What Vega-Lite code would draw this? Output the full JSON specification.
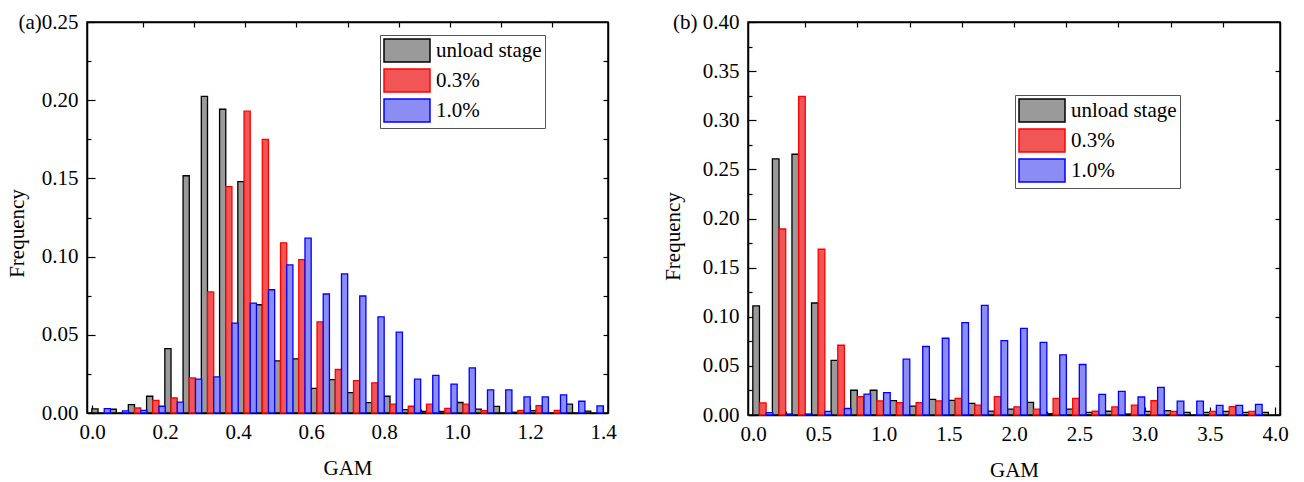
{
  "$schema": "https://vega.github.io/schema/vega-lite/v6.json",
  "background": "white",
  "autosize": {"type": "pad"},
  "padding": {"left": 5, "top": 10, "right": 0, "bottom": 0},
  "spacing": 44,
  "config": {
    "view": {"stroke": "black", "strokeWidth": 1.5},
    "axis": {
      "grid": false,
      "labelFont": "Liberation Serif",
      "labelFontSize": 21,
      "labelColor": "black",
      "titleFont": "Liberation Serif",
      "titleFontSize": 21,
      "titleFontWeight": "normal",
      "titleColor": "black",
      "domainColor": "black",
      "domainWidth": 1.5,
      "tickColor": "black",
      "tickWidth": 1.2
    },
    "legend": {
      "orient": "none",
      "fillColor": "white",
      "strokeColor": "#555555",
      "padding": 3,
      "labelFont": "Liberation Serif",
      "labelFontSize": 21,
      "labelColor": "black",
      "symbolType": "M-1,-1H3V1H-1Z",
      "symbolSize": 529,
      "symbolStrokeWidth": 1.5,
      "symbolOpacity": 1,
      "labelOffset": 28,
      "rowPadding": 1
    }
  },
  "datasets": {
    "a": [
      {"gam": 0.025, "series": "unload stage", "freq": 0.0026}, {"gam": 0.025, "series": "1.0%", "freq": 0.0028},
      {"gam": 0.075, "series": "unload stage", "freq": 0.0024}, {"gam": 0.075, "series": "1.0%", "freq": 0.0013},
      {"gam": 0.125, "series": "unload stage", "freq": 0.0053}, {"gam": 0.125, "series": "0.3%", "freq": 0.0032}, {"gam": 0.125, "series": "1.0%", "freq": 0.0017},
      {"gam": 0.175, "series": "unload stage", "freq": 0.0107}, {"gam": 0.175, "series": "0.3%", "freq": 0.0081}, {"gam": 0.175, "series": "1.0%", "freq": 0.0043},
      {"gam": 0.225, "series": "unload stage", "freq": 0.0412}, {"gam": 0.225, "series": "0.3%", "freq": 0.0096}, {"gam": 0.225, "series": "1.0%", "freq": 0.007},
      {"gam": 0.275, "series": "unload stage", "freq": 0.1517}, {"gam": 0.275, "series": "0.3%", "freq": 0.0224}, {"gam": 0.275, "series": "1.0%", "freq": 0.0216},
      {"gam": 0.325, "series": "unload stage", "freq": 0.2024}, {"gam": 0.325, "series": "0.3%", "freq": 0.0774}, {"gam": 0.325, "series": "1.0%", "freq": 0.0231},
      {"gam": 0.375, "series": "unload stage", "freq": 0.1942}, {"gam": 0.375, "series": "0.3%", "freq": 0.1447}, {"gam": 0.375, "series": "1.0%", "freq": 0.0575},
      {"gam": 0.425, "series": "unload stage", "freq": 0.1479}, {"gam": 0.425, "series": "0.3%", "freq": 0.193}, {"gam": 0.425, "series": "1.0%", "freq": 0.0703},
      {"gam": 0.475, "series": "unload stage", "freq": 0.0692}, {"gam": 0.475, "series": "0.3%", "freq": 0.175}, {"gam": 0.475, "series": "1.0%", "freq": 0.0788},
      {"gam": 0.525, "series": "unload stage", "freq": 0.0333}, {"gam": 0.525, "series": "0.3%", "freq": 0.1088}, {"gam": 0.525, "series": "1.0%", "freq": 0.0947},
      {"gam": 0.575, "series": "unload stage", "freq": 0.0346}, {"gam": 0.575, "series": "0.3%", "freq": 0.0981}, {"gam": 0.575, "series": "1.0%", "freq": 0.1118},
      {"gam": 0.625, "series": "unload stage", "freq": 0.0158}, {"gam": 0.625, "series": "0.3%", "freq": 0.0583}, {"gam": 0.625, "series": "1.0%", "freq": 0.0761},
      {"gam": 0.675, "series": "unload stage", "freq": 0.0214}, {"gam": 0.675, "series": "0.3%", "freq": 0.0278}, {"gam": 0.675, "series": "1.0%", "freq": 0.0889},
      {"gam": 0.725, "series": "unload stage", "freq": 0.013}, {"gam": 0.725, "series": "0.3%", "freq": 0.0207}, {"gam": 0.725, "series": "1.0%", "freq": 0.0748},
      {"gam": 0.775, "series": "unload stage", "freq": 0.0066}, {"gam": 0.775, "series": "0.3%", "freq": 0.0193}, {"gam": 0.775, "series": "1.0%", "freq": 0.0615},
      {"gam": 0.825, "series": "unload stage", "freq": 0.0107}, {"gam": 0.825, "series": "0.3%", "freq": 0.0057}, {"gam": 0.825, "series": "1.0%", "freq": 0.0517},
      {"gam": 0.875, "series": "unload stage", "freq": 0.0021}, {"gam": 0.875, "series": "0.3%", "freq": 0.0043}, {"gam": 0.875, "series": "1.0%", "freq": 0.0216},
      {"gam": 0.925, "series": "unload stage", "freq": 0.001}, {"gam": 0.925, "series": "0.3%", "freq": 0.0057}, {"gam": 0.925, "series": "1.0%", "freq": 0.0241},
      {"gam": 0.975, "series": "unload stage", "freq": 0.001}, {"gam": 0.975, "series": "0.3%", "freq": 0.0029}, {"gam": 0.975, "series": "1.0%", "freq": 0.0185},
      {"gam": 1.025, "series": "unload stage", "freq": 0.0067}, {"gam": 1.025, "series": "0.3%", "freq": 0.0057}, {"gam": 1.025, "series": "1.0%", "freq": 0.0288},
      {"gam": 1.075, "series": "unload stage", "freq": 0.0025}, {"gam": 1.075, "series": "0.3%", "freq": 0.0015}, {"gam": 1.075, "series": "1.0%", "freq": 0.0148},
      {"gam": 1.125, "series": "unload stage", "freq": 0.0042}, {"gam": 1.125, "series": "1.0%", "freq": 0.0148},
      {"gam": 1.175, "series": "unload stage", "freq": 0.0005}, {"gam": 1.175, "series": "0.3%", "freq": 0.0017}, {"gam": 1.175, "series": "1.0%", "freq": 0.0103},
      {"gam": 1.225, "series": "unload stage", "freq": 0.0015}, {"gam": 1.225, "series": "0.3%", "freq": 0.0047}, {"gam": 1.225, "series": "1.0%", "freq": 0.0103},
      {"gam": 1.275, "series": "0.3%", "freq": 0.0017}, {"gam": 1.275, "series": "1.0%", "freq": 0.0116},
      {"gam": 1.325, "series": "unload stage", "freq": 0.0057}, {"gam": 1.325, "series": "1.0%", "freq": 0.0075},
      {"gam": 1.375, "series": "unload stage", "freq": 0.0012}, {"gam": 1.375, "series": "1.0%", "freq": 0.0046}
    ],
    "b": [
      {"gam": 0.075, "series": "unload stage", "freq": 0.111}, {"gam": 0.075, "series": "0.3%", "freq": 0.0124}, {"gam": 0.075, "series": "1.0%", "freq": 0.0025},
      {"gam": 0.225, "series": "unload stage", "freq": 0.2607}, {"gam": 0.225, "series": "0.3%", "freq": 0.1893}, {"gam": 0.225, "series": "1.0%", "freq": 0.001},
      {"gam": 0.375, "series": "unload stage", "freq": 0.2654}, {"gam": 0.375, "series": "0.3%", "freq": 0.3243}, {"gam": 0.375, "series": "1.0%", "freq": 0.001},
      {"gam": 0.525, "series": "unload stage", "freq": 0.114}, {"gam": 0.525, "series": "0.3%", "freq": 0.1687}, {"gam": 0.525, "series": "1.0%", "freq": 0.0037},
      {"gam": 0.675, "series": "unload stage", "freq": 0.0555}, {"gam": 0.675, "series": "0.3%", "freq": 0.071}, {"gam": 0.675, "series": "1.0%", "freq": 0.0066},
      {"gam": 0.825, "series": "unload stage", "freq": 0.0252}, {"gam": 0.825, "series": "0.3%", "freq": 0.0186}, {"gam": 0.825, "series": "1.0%", "freq": 0.0212},
      {"gam": 0.975, "series": "unload stage", "freq": 0.0252}, {"gam": 0.975, "series": "0.3%", "freq": 0.0143}, {"gam": 0.975, "series": "1.0%", "freq": 0.0227},
      {"gam": 1.125, "series": "unload stage", "freq": 0.0147}, {"gam": 1.125, "series": "0.3%", "freq": 0.0125}, {"gam": 1.125, "series": "1.0%", "freq": 0.0568},
      {"gam": 1.275, "series": "unload stage", "freq": 0.0091}, {"gam": 1.275, "series": "0.3%", "freq": 0.0125}, {"gam": 1.275, "series": "1.0%", "freq": 0.0697},
      {"gam": 1.425, "series": "unload stage", "freq": 0.016}, {"gam": 1.425, "series": "0.3%", "freq": 0.0143}, {"gam": 1.425, "series": "1.0%", "freq": 0.0781},
      {"gam": 1.575, "series": "unload stage", "freq": 0.0149}, {"gam": 1.575, "series": "0.3%", "freq": 0.017}, {"gam": 1.575, "series": "1.0%", "freq": 0.094},
      {"gam": 1.725, "series": "unload stage", "freq": 0.0118}, {"gam": 1.725, "series": "0.3%", "freq": 0.0101}, {"gam": 1.725, "series": "1.0%", "freq": 0.1116},
      {"gam": 1.875, "series": "unload stage", "freq": 0.004}, {"gam": 1.875, "series": "0.3%", "freq": 0.0187}, {"gam": 1.875, "series": "1.0%", "freq": 0.0757},
      {"gam": 2.025, "series": "unload stage", "freq": 0.006}, {"gam": 2.025, "series": "0.3%", "freq": 0.0083}, {"gam": 2.025, "series": "1.0%", "freq": 0.0882},
      {"gam": 2.175, "series": "unload stage", "freq": 0.0128}, {"gam": 2.175, "series": "0.3%", "freq": 0.006}, {"gam": 2.175, "series": "1.0%", "freq": 0.074},
      {"gam": 2.325, "series": "unload stage", "freq": 0.0013}, {"gam": 2.325, "series": "0.3%", "freq": 0.0169}, {"gam": 2.325, "series": "1.0%", "freq": 0.0612},
      {"gam": 2.475, "series": "unload stage", "freq": 0.006}, {"gam": 2.475, "series": "0.3%", "freq": 0.0169}, {"gam": 2.475, "series": "1.0%", "freq": 0.0514},
      {"gam": 2.625, "series": "unload stage", "freq": 0.0027}, {"gam": 2.625, "series": "0.3%", "freq": 0.0038}, {"gam": 2.625, "series": "1.0%", "freq": 0.021},
      {"gam": 2.775, "series": "unload stage", "freq": 0.0038}, {"gam": 2.775, "series": "0.3%", "freq": 0.0083}, {"gam": 2.775, "series": "1.0%", "freq": 0.024},
      {"gam": 2.925, "series": "unload stage", "freq": 0.001}, {"gam": 2.925, "series": "0.3%", "freq": 0.0101}, {"gam": 2.925, "series": "1.0%", "freq": 0.0183},
      {"gam": 3.075, "series": "unload stage", "freq": 0.0037}, {"gam": 3.075, "series": "0.3%", "freq": 0.0145}, {"gam": 3.075, "series": "1.0%", "freq": 0.0281},
      {"gam": 3.225, "series": "unload stage", "freq": 0.0044}, {"gam": 3.225, "series": "0.3%", "freq": 0.0037}, {"gam": 3.225, "series": "1.0%", "freq": 0.0142},
      {"gam": 3.375, "series": "unload stage", "freq": 0.0027}, {"gam": 3.375, "series": "1.0%", "freq": 0.0142},
      {"gam": 3.525, "series": "unload stage", "freq": 0.0027}, {"gam": 3.525, "series": "0.3%", "freq": 0.0037}, {"gam": 3.525, "series": "1.0%", "freq": 0.0098},
      {"gam": 3.675, "series": "unload stage", "freq": 0.0037}, {"gam": 3.675, "series": "0.3%", "freq": 0.0085}, {"gam": 3.675, "series": "1.0%", "freq": 0.0098},
      {"gam": 3.825, "series": "unload stage", "freq": 0.0027}, {"gam": 3.825, "series": "0.3%", "freq": 0.0037}, {"gam": 3.825, "series": "1.0%", "freq": 0.0108},
      {"gam": 3.975, "series": "unload stage", "freq": 0.0027}
    ]
  },
  "resolve": {
    "scale": {"fill": "independent", "stroke": "independent"},
    "legend": {"fill": "independent", "stroke": "independent"}
  },
  "hconcat": [
    {
      "width": 521,
      "height": 391,
      "data": {"name": "a"},
      "encoding": {
        "fill": {"field": "series", "type": "nominal", "scale": {"domain": ["unload stage", "0.3%", "1.0%"], "range": ["#9a9a9a", "#f25555", "#8c8cf5"]}, "legend": {"title": null, "legendX": 293, "legendY": 13}},
        "stroke": {"field": "series", "type": "nominal", "scale": {"domain": ["unload stage", "0.3%", "1.0%"], "range": ["#000000", "#ff0000", "#0000ff"]}, "legend": {"title": null, "legendX": 293, "legendY": 13}}
      },
      "resolve": {"axis": {"x": "independent", "y": "independent"}},
      "layer": [
        {
          "transform": [{"filter": "datum.series === 'unload stage'"}],
          "mark": {"type": "bar", "width": 6.2, "xOffset": -6.2, "strokeWidth": 1.3},
          "encoding": {
            "x": {"field": "gam", "type": "quantitative", "scale": {"domain": [0, 1.4], "nice": false, "zero": false},
                  "axis": {"orient": "bottom", "title": "GAM", "values": [0, 0.2, 0.4, 0.6, 0.8, 1.0, 1.2, 1.4], "format": ".1f", "tickSize": -8, "labelPadding": 16, "titleBaseline": "middle", "titleY": 55}},
            "y": {"field": "freq", "type": "quantitative", "scale": {"domain": [0, 0.25], "nice": false},
                  "axis": {"orient": "left", "title": "Frequency", "values": [0, 0.05, 0.1, 0.15, 0.2, 0.25], "format": ".2f", "labelExpr": "datum.value > 0.249 ? '(a)0.25' : datum.label", "tickSize": -8, "labelPadding": 17, "titleX": -60, "titleY": 211}}
          }
        },
        {
          "transform": [{"filter": "datum.series === '0.3%'"}],
          "mark": {"type": "bar", "width": 6.2, "strokeWidth": 1.3},
          "encoding": {
            "x": {"field": "gam", "type": "quantitative", "scale": {"domain": [0, 1.4], "nice": false, "zero": false},
                  "axis": {"orient": "top", "title": null, "labels": false, "values": [0.14, 0.28, 0.42, 0.56, 0.7, 0.84, 0.98, 1.12, 1.26], "tickSize": -5}},
            "y": {"field": "freq", "type": "quantitative", "scale": {"domain": [0, 0.25], "nice": false},
                  "axis": {"orient": "right", "title": null, "labels": false, "values": [0.025, 0.05, 0.075, 0.1, 0.125, 0.15, 0.175, 0.2, 0.225], "tickSize": -5}}
          }
        },
        {
          "transform": [{"filter": "datum.series === '1.0%'"}],
          "mark": {"type": "bar", "width": 6.2, "xOffset": 6.2, "strokeWidth": 1.3},
          "encoding": {
            "x": {"field": "gam", "type": "quantitative", "scale": {"domain": [0, 1.4], "nice": false, "zero": false},
                  "axis": {"orient": "bottom", "title": null, "labels": false, "domain": false, "values": [0.1, 0.3, 0.5, 0.7, 0.9, 1.1, 1.3], "tickSize": -4}},
            "y": {"field": "freq", "type": "quantitative", "scale": {"domain": [0, 0.25], "nice": false},
                  "axis": {"orient": "left", "title": null, "labels": false, "domain": false, "values": [0.025, 0.075, 0.125, 0.175, 0.225], "tickSize": -4}}
          }
        }
      ]
    },
    {
      "width": 532,
      "height": 393,
      "data": {"name": "b"},
      "encoding": {
        "fill": {"field": "series", "type": "nominal", "scale": {"domain": ["unload stage", "0.3%", "1.0%"], "range": ["#9a9a9a", "#f25555", "#8c8cf5"]}, "legend": {"title": null, "legendX": 267, "legendY": 73}},
        "stroke": {"field": "series", "type": "nominal", "scale": {"domain": ["unload stage", "0.3%", "1.0%"], "range": ["#000000", "#ff0000", "#0000ff"]}, "legend": {"title": null, "legendX": 267, "legendY": 73}}
      },
      "resolve": {"axis": {"x": "independent", "y": "independent"}},
      "layer": [
        {
          "transform": [{"filter": "datum.series === 'unload stage'"}],
          "mark": {"type": "bar", "width": 6.65, "xOffset": -6.65, "strokeWidth": 1.3},
          "encoding": {
            "x": {"field": "gam", "type": "quantitative", "scale": {"domain": [0, 4.0], "nice": false, "zero": false},
                  "axis": {"orient": "bottom", "title": "GAM", "values": [0, 0.5, 1.0, 1.5, 2.0, 2.5, 3.0, 3.5, 4.0], "format": ".1f", "tickSize": -8, "labelPadding": 16, "titleBaseline": "middle", "titleY": 55}},
            "y": {"field": "freq", "type": "quantitative", "scale": {"domain": [0, 0.4], "nice": false},
                  "axis": {"orient": "left", "title": "Frequency", "values": [0, 0.05, 0.1, 0.15, 0.2, 0.25, 0.3, 0.35, 0.4], "format": ".2f", "labelExpr": "datum.value > 0.399 ? '(b) 0.40' : datum.label", "tickSize": -8, "labelPadding": 17, "titleX": -65, "titleY": 214}}
          }
        },
        {
          "transform": [{"filter": "datum.series === '0.3%'"}],
          "mark": {"type": "bar", "width": 6.65, "strokeWidth": 1.3},
          "encoding": {
            "x": {"field": "gam", "type": "quantitative", "scale": {"domain": [0, 4.0], "nice": false, "zero": false},
                  "axis": {"orient": "top", "title": null, "labels": false, "values": [0.4, 0.8, 1.2, 1.6, 2.0, 2.4, 2.8, 3.2, 3.6], "tickSize": -5}},
            "y": {"field": "freq", "type": "quantitative", "scale": {"domain": [0, 0.4], "nice": false},
                  "axis": {"orient": "right", "title": null, "labels": false, "values": [0.05, 0.1, 0.15, 0.2, 0.25, 0.3, 0.35], "tickSize": -5}}
          }
        },
        {
          "transform": [{"filter": "datum.series === '1.0%'"}],
          "mark": {"type": "bar", "width": 6.65, "xOffset": 6.65, "strokeWidth": 1.3},
          "encoding": {
            "x": {"field": "gam", "type": "quantitative", "scale": {"domain": [0, 4.0], "nice": false, "zero": false},
                  "axis": {"orient": "bottom", "title": null, "labels": false, "domain": false, "values": [0.25, 0.75, 1.25, 1.75, 2.25, 2.75, 3.25, 3.75], "tickSize": -4}},
            "y": {"field": "freq", "type": "quantitative", "scale": {"domain": [0, 0.4], "nice": false},
                  "axis": {"orient": "left", "title": null, "labels": false, "domain": false, "values": [0.025, 0.075, 0.125, 0.175, 0.225, 0.275, 0.325, 0.375], "tickSize": -4}}
          }
        }
      ]
    }
  ]
}
